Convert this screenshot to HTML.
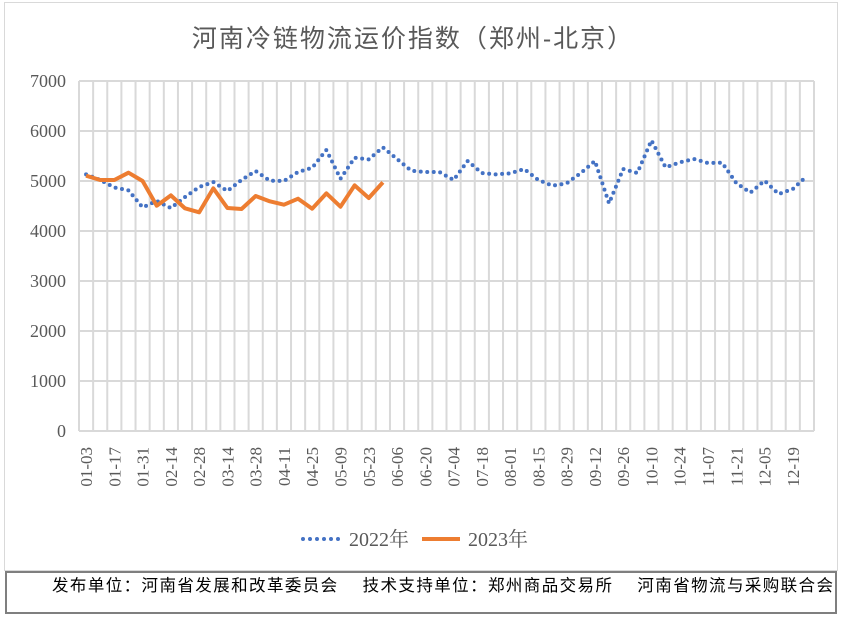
<!DOCTYPE html>
<html><head><meta charset="utf-8"><style>
body{margin:0;background:#fff;}
svg{display:block;font-family:"Liberation Serif","Noto Serif CJK SC",serif;}
</style></head><body>
<svg width="842" height="620" viewBox="0 0 842 620" xmlns="http://www.w3.org/2000/svg">
<rect x="4.5" y="2.5" width="833" height="568" fill="#fff" stroke="#d9d9d9"/>
<text x="413" y="47" text-anchor="middle" font-size="25" letter-spacing="2" fill="#595959" font-family="Liberation Sans,Noto Sans CJK SC,sans-serif">河南冷链物流运价指数（郑州-北京）</text>
<g id="grid"></g>
<g id="yticks"></g>
<g id="xticks"></g>
<g id="series"></g>
<g>
<g>
<line x1="303" y1="539" x2="341" y2="539" stroke="#4472c4" stroke-width="4" stroke-linecap="round" stroke-dasharray="0 7"/>
<text x="349" y="546" font-size="20" fill="#595959">2022年</text></g>
<g>
<line x1="422" y1="539" x2="460" y2="539" stroke="#ed7d31" stroke-width="4"/>
<text x="468" y="546" font-size="20" fill="#595959">2023年</text></g>
</g>
<rect x="6" y="572" width="830" height="41" fill="#fff" stroke="#7f7f7f" stroke-width="2"/>
<text x="52" y="591" font-size="16.5" fill="#000" font-family="Liberation Sans,Noto Sans CJK SC,sans-serif" textLength="781" lengthAdjust="spacing" xml:space="preserve">发布单位：河南省发展和改革委员会    技术支持单位：郑州商品交易所    河南省物流与采购联合会</text>
</svg>
<script>
const categories=["01-03","01-10","01-17","01-24","01-31","02-07","02-14","02-21","02-28","03-07","03-14","03-21","03-28","04-04","04-11","04-18","04-25","05-02","05-09","05-16","05-23","05-30","06-06","06-13","06-20","06-27","07-04","07-11","07-18","07-25","08-01","08-08","08-15","08-22","08-29","09-05","09-12","09-19","09-26","10-03","10-10","10-17","10-24","10-31","11-07","11-14","11-21","11-28","12-05","12-12","12-19","12-26"];
const series2022=[5133,5020,4870,4813,4473,4600,4460,4680,4880,4980,4800,5020,5200,5006,5000,5180,5266,5620,5046,5466,5433,5673,5440,5206,5180,5180,5020,5400,5160,5133,5153,5240,5020,4906,4953,5160,5400,4553,5240,5160,5813,5273,5373,5440,5360,5366,4960,4766,5006,4740,4840,5100];
const series2023=[5106,5020,5020,5166,5000,4506,4713,4453,4373,4853,4460,4440,4700,4593,4526,4646,4446,4753,4486,4913,4660,4973];
const yTicks=[0,1000,2000,3000,4000,5000,6000,7000];
const NS="http://www.w3.org/2000/svg";
const L=79,R=814,T=81,B=431,YMAX=7000;
const bw=(R-L)/categories.length;
const xs=i=>L+bw*(i+0.5);
const ys=v=>B-(v/YMAX)*(B-T);
function mk(t,a,p){const e=document.createElementNS(NS,t);for(const k in a)e.setAttribute(k,a[k]);p.appendChild(e);return e;}
const grid=document.getElementById('grid');
for(let i=0;i<=categories.length;i++){const x=L+bw*i;
const g=mk('line',{x1:x,y1:T,x2:x,y2:B,stroke:'#d9d9d9','stroke-width':2},grid);

}
const yg=document.getElementById('yticks');
yTicks.forEach(v=>{const y=ys(v);
const l=mk('line',{x1:L,y1:y,x2:R,y2:y,stroke:'#d9d9d9','stroke-width':2},grid);


const t=mk('text',{x:66,y:y+6,'text-anchor':'end','font-size':18,fill:'#595959'},yg);
t.textContent=v;

});
const xg=document.getElementById('xticks');
categories.forEach((c,i)=>{if(i%2)return;const x=xs(i)+6;
const t=mk('text',{x:x,y:447,transform:`rotate(-90 ${x} 447)`,'text-anchor':'end','font-size':17,fill:'#595959'},xg);
t.textContent=c;

});
const sg=document.getElementById('series');
const p1=mk('polyline',{points:series2022.map((v,i)=>xs(i)+','+ys(v)).join(' '),fill:'none',stroke:'#4472c4','stroke-width':4,'stroke-linecap':'round','stroke-dasharray':'0 6.5'},sg);


const p2=mk('polyline',{points:series2023.map((v,i)=>xs(i)+','+ys(v)).join(' '),fill:'none',stroke:'#ed7d31','stroke-width':4,'stroke-linejoin':'round'},sg);


</script>
</body></html>
